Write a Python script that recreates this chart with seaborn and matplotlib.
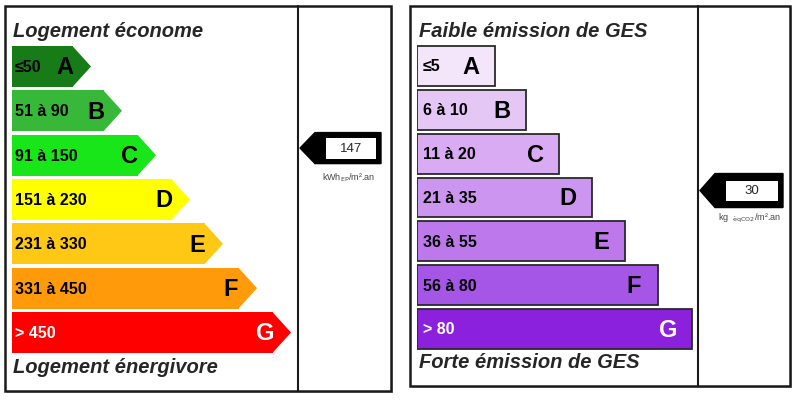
import numpy as np
import pandas as pd
import matplotlib
matplotlib.use('Agg')
import matplotlib.pyplot as plt
import seaborn as sns
from matplotlib.patches import Rectangle, Polygon

# --- data ---
classes = ['A', 'B', 'C', 'D', 'E', 'F', 'G']

energy_ranges = ['≤50', '51 à 90', '91 à 150', '151 à 230', '231 à 330', '331 à 450', '> 450']
energy_bounds = [50, 90, 150, 230, 330, 450]
energy_len = [79, 110, 144, 178, 211, 245, 279]
energy_colors = ['#177c17', '#38b838', '#18e618', '#ffff00', '#ffc814', '#ff9a0a', '#ff0000']
energy_value = 147

ges_ranges = ['≤5', '6 à 10', '11 à 20', '21 à 35', '36 à 55', '56 à 80', '> 80']
ges_bounds = [5, 10, 20, 35, 55, 80]
ges_len = [78, 109, 142, 175, 208, 241, 275]
ges_colors = ['#f3e6fb', '#e4c7f5', '#d8abf3', '#cc95f0', '#bd78ec', '#a656e6', '#8b20dd']
ges_value = 30

W, H = 800, 400
TIP = 18

sns.set_style('white')
plt.rcParams['font.family'] = ['Liberation Sans', 'DejaVu Sans']

fig = plt.figure(figsize=(8, 4), dpi=100)


def px_axes(x0, y0, x1, y1):
    return fig.add_axes([x0 / W, 1 - y1 / H, (x1 - x0) / W, (y1 - y0) / H])


bg = px_axes(0, 0, W, H)
bg.set_xlim(0, W)
bg.set_ylim(H, 0)
bg.axis('off')


def frame(x0, y0, x1, y1, xdiv):
    bg.add_patch(Rectangle((x0 + 2, y0 + 2), x1 - x0, y1 - y0, fc='#c4c4c4', ec='none', zorder=0))
    bg.add_patch(Rectangle((x0, y0), x1 - x0, y1 - y0, fc='white', ec='#1a1a1a', lw=1.8, zorder=1))
    bg.plot([xdiv, xdiv], [y0, y1], color='#1a1a1a', lw=1.5, zorder=2)


frame(5, 6, 391, 391, 298)
frame(410, 6, 790, 386, 698)


def panel(box, ranges, lengths, colors, bar_h, arrow, label_x, letter_off):
    x0, y0, x1, y1 = box
    ax = px_axes(x0, y0, x1, y1)
    df = pd.DataFrame({'classe': classes, 'long': lengths})
    df['rect'] = df['long'] - (TIP if arrow else 0)
    sns.barplot(data=df, x='rect', y='classe', hue='classe', palette=colors, orient='h',
                width=bar_h, saturation=1, legend=False, ax=ax,
                edgecolor='none' if arrow else '#2a2a2a', linewidth=0 if arrow else 1.3)
    if arrow:
        for i, (L, c) in enumerate(zip(df['long'], colors)):
            ax.fill([L - TIP - 0.6, L, L - TIP - 0.6], [i - bar_h / 2, i, i + bar_h / 2],
                    color=c, lw=0)
    for i, (rng, cls, L) in enumerate(zip(ranges, classes, df['long'])):
        col = 'white' if cls == 'G' else 'black'
        ax.text(label_x, i + 0.02, rng, ha='left', va='center', fontsize=11.5,
                fontweight='bold', color=col)
        ax.text(L - letter_off, i + 0.03, cls, ha='center', va='center', fontsize=17,
                fontweight='bold', color=col)
    ax.set_xlim(0, x1 - x0)
    ax.set_ylim(len(classes) - 0.5, -0.5)
    ax.axis('off')
    ax.patch.set_alpha(0)
    return ax


ax_e = panel((12, 44.35, 298, 354.65), energy_ranges, energy_len, energy_colors, 0.925, True, 3, 26)
ax_g = panel((417, 44.1, 698, 351.0), ges_ranges, ges_len, ges_colors, 0.91, False, 6, 24)

# titles
title_kw = dict(fontsize=14.5, fontweight='bold', fontstyle='italic', va='baseline', ha='left')
bg.text(13, 37, 'Logement économe', **title_kw)
bg.text(13, 373, 'Logement énergivore', **title_kw)
bg.text(419, 37, 'Faible émission de GES', **title_kw)
bg.text(419, 368, 'Forte émission de GES', **title_kw)


def indicator(ax, value, bounds, x_tip, x_neck, x_right, half_h, unit, unit_dy):
    idx = int(np.searchsorted(bounds, value))
    disp = ax.transData.transform((0, idx - 0.16))
    cy = bg.transData.inverted().transform(disp)[1]
    pts = [(x_tip, cy), (x_neck, cy - half_h), (x_right, cy - half_h),
           (x_right, cy + half_h), (x_neck, cy + half_h)]
    bg.add_patch(Polygon(pts, closed=True, fc='black', ec='black', zorder=3))
    ix0, ix1 = x_neck + 11, x_right - 5
    bg.add_patch(Rectangle((ix0, cy - 10), ix1 - ix0, 20.5, fc='white', ec='none', zorder=4))
    bg.text((ix0 + ix1) / 2, cy + 0.5, str(value), ha='center', va='center', fontsize=9.5, zorder=5)
    bg.text((ix0 + ix1) / 2 - 2, cy + unit_dy, unit, ha='center', va='center', fontsize=6.5,
            color='#444444', zorder=5)


fig.canvas.draw()
indicator(ax_e, energy_value, energy_bounds, 300, 315, 381, 15.5,
          r'kWh$_{\mathrm{EP}}$/m².an', 30)
indicator(ax_g, ges_value, ges_bounds, 700, 715, 783, 17,
          r'kg  $_{\mathrm{\'eqCO2}}$/m².an', 28)

fig.savefig('out.png', dpi=100, facecolor='white')
